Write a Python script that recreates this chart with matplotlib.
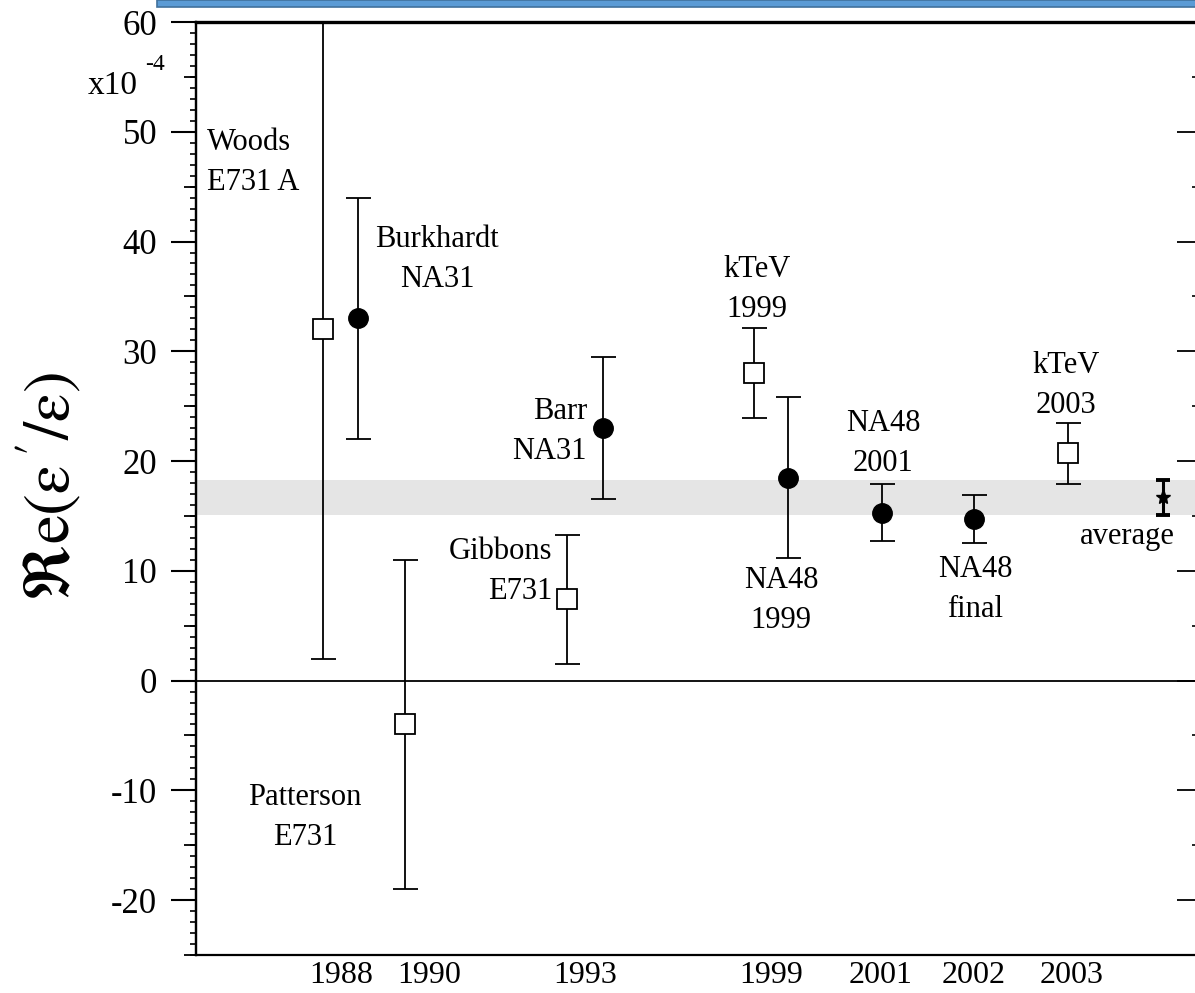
import matplotlib
matplotlib.use("Agg")
import matplotlib.pyplot as plt
from matplotlib.patches import Rectangle
from matplotlib.ticker import MultipleLocator, FixedLocator, NullFormatter

plt.rcParams['font.family'] = ['Liberation Serif', 'DejaVu Serif']
plt.rcParams['mathtext.fontset'] = 'stix'
plt.rcParams['axes.unicode_minus'] = False

# ---- data (units of 1e-4) ----
sq_names = ["Woods E731 A", "Patterson E731", "Gibbons E731", "kTeV 1999", "kTeV 2003"]
sq_x = [127, 209, 371, 558, 872]
sq_val = [32.0, -4.0, 7.4, 28.0, 20.7]
sq_err = [30.0, 15.0, 5.9, 4.1, 2.8]

ci_names = ["Burkhardt NA31", "Barr NA31", "NA48 1999", "NA48 2001", "NA48 final"]
ci_x = [162, 407, 592, 686, 778]
ci_val = [33.0, 23.0, 18.5, 15.3, 14.7]
ci_err = [11.0, 6.5, 7.3, 2.6, 2.2]

avg_x = [967]
avg_val = [16.7]
avg_err = [1.6]

year_labels = ["1988", "1990", "1993", "1999", "2001", "2002", "2003"]
year_pos = [145, 233, 389, 575, 685, 778, 876]

y_ticks = [60, 50, 40, 30, 20, 10, 0, -10, -20]

fig = plt.figure(figsize=(11.95, 9.93), dpi=100)
L, R, B, T = 196, 1198, 955, 22
W, H = 1195, 993
ax = fig.add_axes([L / W, 1 - B / H, (R - L) / W, (B - T) / H])
ax.set_xlim(0, R - L)
ax.set_ylim(-25, 60)

# average band
ax.axhspan(avg_val[0] - avg_err[0], avg_val[0] + avg_err[0], color='#e5e5e5', zorder=0, lw=0)
ax.axhline(0, color='black', lw=1.3, zorder=1)

ax.errorbar(sq_x, sq_val, yerr=sq_err, fmt='s', ms=15, mfc='white', mec='black', mew=1.3,
            ecolor='black', elinewidth=1.3, capsize=9, capthick=1.3, zorder=3)
ax.errorbar(ci_x, ci_val, yerr=ci_err, fmt='o', ms=14, mfc='black', mec='black',
            ecolor='black', elinewidth=1.3, capsize=9, capthick=1.3, zorder=3)
ax.errorbar(avg_x, avg_val, yerr=avg_err, fmt='*', ms=11, mfc='black', mec='black',
            ecolor='black', elinewidth=2.2, capsize=5, capthick=2.8, zorder=3)

# annotations
fs = 22
kw = dict(fontsize=fs, linespacing=1.5, va='center')
ax.text(11, 47.2, "Woods\nE731 A", ha='left', **kw)
ax.text(241, 38.4, "Burkhardt\nNA31", ha='center', **kw)
ax.text(391, 22.7, "Barr\nNA31", ha='right', **kw)
ax.text(356, 9.9, "Gibbons\nE731", ha='right', **kw)
ax.text(109, -12.5, "Patterson\nE731", ha='center', **kw)
ax.text(561, 35.6, "kTeV\n1999", ha='center', **kw)
ax.text(585, 7.3, "NA48\n1999", ha='center', **kw)
ax.text(687, 21.6, "NA48\n2001", ha='center', **kw)
ax.text(779, 8.3, "NA48\nfinal", ha='center', **kw)
ax.text(870, 26.9, "kTeV\n2003", ha='center', **kw)
ax.text(931, 13.1, "average", ha='center', fontsize=fs, va='center')

# axes styling
for s in ['left', 'bottom']:
    ax.spines[s].set_linewidth(1.6)
ax.spines['top'].set_linewidth(2.4)
ax.spines['right'].set_linewidth(1.6)

ax.yaxis.set_major_locator(FixedLocator(y_ticks))
ax.yaxis.set_minor_locator(MultipleLocator(1))
ax.tick_params(axis='y', which='major', direction='out', length=18, width=1.5,
               labelsize=25, pad=10)
ax.tick_params(axis='y', which='minor', direction='out', length=4.3, width=1.2)
ax.set_xticks(year_pos)
ax.set_xticklabels(year_labels)
ax.tick_params(axis='x', which='both', length=0, labelsize=23, pad=4.5)

sec = ax.secondary_yaxis('left')
sec.yaxis.set_major_locator(MultipleLocator(5))
sec.yaxis.set_major_formatter(NullFormatter())
sec.tick_params(direction='out', length=8.6, width=1.3)
sec.spines['left'].set_linewidth(1.6)

secr = ax.secondary_yaxis('right')
secr.yaxis.set_major_locator(MultipleLocator(10))
secr.yaxis.set_minor_locator(MultipleLocator(5))
secr.yaxis.set_major_formatter(NullFormatter())
secr.tick_params(which='major', direction='in', length=15, width=1.3)
secr.tick_params(which='minor', direction='in', length=4.5, width=1.2)

# exponent label and y-axis label
fig.text(88 / W, 1 - 94 / H, "x10", fontsize=24, ha='left', va='baseline')
fig.text(145 / W, 1 - 70 / H, "-4", fontsize=17, ha='left', va='baseline')
fig.text(49 / W, 1 - 487 / H, r"$\Re\mathrm{e}(\mathrm{\varepsilon}\,'/\mathrm{\varepsilon})$",
         fontsize=47, rotation=90, ha='center', va='center')

# blue bar at top
fig.patches.append(Rectangle((157 / W, 1 - 7 / H), 1, 7 / H, transform=fig.transFigure,
                             facecolor='#5b9bd5', edgecolor='#41719c', lw=1.2))

fig.savefig("out.png", dpi=100)
